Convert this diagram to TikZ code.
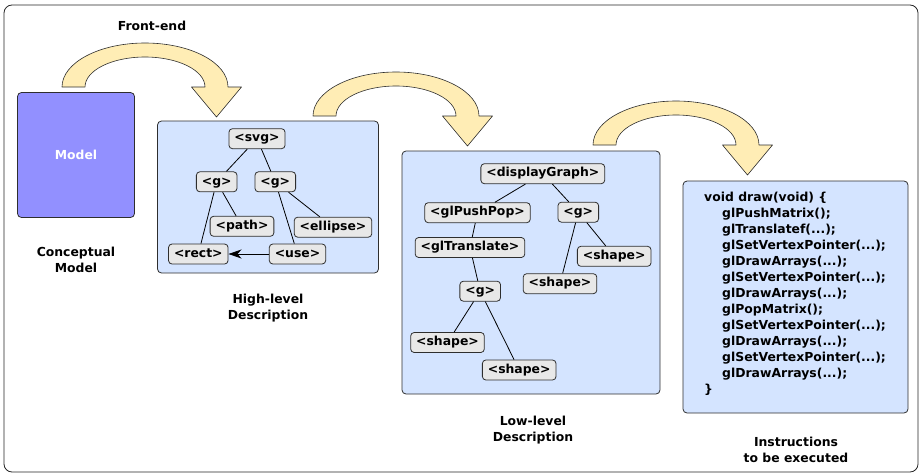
\documentclass[tikz,border=0pt]{standalone}
\usepackage{fontspec}
\setmainfont{DejaVu Sans}
\usetikzlibrary{arrows.meta}

\definecolor{panelblue}{HTML}{D4E4FF}
\definecolor{modelblue}{HTML}{9290FF}
\definecolor{tagfill}{HTML}{E8E8E8}
\definecolor{flowyellow}{HTML}{FFEDB5}
\definecolor{edgegray}{HTML}{2E2E2E}

\newcommand{\labelfont}{\bfseries\fontsize{12.4}{16}\selectfont}

\tikzset{
    panel/.style={shape=rectangle, draw=edgegray, fill=panelblue, line width=0.8pt, rounded corners=4pt},
    tag/.style={shape=rectangle, draw=edgegray, fill=tagfill, line width=0.8pt, rounded corners=3.5pt, minimum height=20pt, inner xsep=5.5pt, inner ysep=1pt, text height=9.2pt, text depth=2.8pt, font=\labelfont},
    caption/.style={align=center, font=\labelfont},
    flow/.style={draw=edgegray, fill=flowyellow, line width=0.6pt, line join=round},
    branch/.style={draw=black, line width=0.8pt},
}

\begin{document}
\begin{tikzpicture}[x=1pt, y=-1pt]
        \useasboundingbox (0,0) rectangle (921,474);
        \draw[rounded corners=8pt, line width=0.8pt, draw=black!85] (4,5) rectangle (918,472);
        % curved stage arrows
        \foreach \ax/\ay in {62/87, 313/116, 593/145}
            \draw[flow, shift={(\ax,\ay)}] (0,0) .. controls (0,-24.3) and (37.2,-44) .. (83,-44) .. controls (128.8,-44) and (166,-24.3) .. (166,0) -- (179.5,0) -- (154.5,30) -- (129.5,0) -- (143,0) .. controls (143,-16.6) and (116.1,-30) .. (83,-30) .. controls (49.9,-30) and (23,-16.6) .. (23,0) -- cycle;
        \node[name=frontend, caption] at (152,26) {Front-end};

        \node[name=model, panel, fill=modelblue, minimum width=117pt, minimum height=125pt, text=white, font=\labelfont] at (76,155) {Model};
        \node[name=modelcap, caption] at (76,260) {Conceptual\\Model};

        % high-level description
        \node[name=high, panel, minimum width=221pt, minimum height=152pt] at (268,197) {};
        \node[name=svg, tag] at (257,138.7) {<svg>};
        \node[name=gl, tag] at (216.7,181.8) {<g>};
        \node[name=gr, tag] at (275.3,181.8) {<g>};
        \node[name=path, tag] at (242,226.3) {<path>};
        \node[name=ellipse, tag] at (333,227.2) {<ellipse>};
        \node[name=rect, tag] at (198.3,254) {<rect>};
        \node[name=use, tag] at (297.5,254) {<use>};
        \draw[branch] (svg) -- (gl);
        \draw[branch] (svg) -- (gr);
        \draw[branch] (gl) -- (path);
        \draw[branch] (gl) -- (rect);
        \draw[branch] (gr) -- (use);
        \draw[branch] (gr) -- (ellipse);
        \draw[branch, -{Stealth[length=13pt, width=9pt, inset=4pt]}] (use) -- (rect);
        \node[name=highcap, caption] at (268,308.5) {High-level\\Description};

        % low-level description
        \node[name=low, panel, minimum width=258pt, minimum height=243pt] at (531,272.5) {};
        \node[name=disp, tag] at (542.8,173.7) {<displayGraph>};
        \node[name=push, tag] at (477.5,212.7) {<glPushPop>};
        \node[name=gtop, tag] at (578.3,212.2) {<g>};
        \node[name=trans, tag] at (470,247.5) {<glTranslate>};
        \node[name=shaper, tag] at (614.2,256.3) {<shape>};
        \node[name=shapem, tag] at (560,283.7) {<shape>};
        \node[name=gbot, tag] at (480.2,291.2) {<g>};
        \node[name=shapel, tag] at (447.5,342.5) {<shape>};
        \node[name=shapeb, tag] at (519.2,370) {<shape>};
        \draw[branch] (disp) -- (push);
        \draw[branch] (disp) -- (gtop);
        \draw[branch] (push) -- (trans);
        \draw[branch] (trans) -- (gbot);
        \draw[branch] (gbot) -- (shapel);
        \draw[branch] (gbot) -- (shapeb);
        \draw[branch] (gtop) -- (shapem);
        \draw[branch] (gtop) -- (shaper);
        \node[name=lowcap, caption] at (533,430) {Low-level\\Description};

        % instructions
        \node[name=instr, panel, minimum width=225pt, minimum height=232pt] at (795.5,297) {};
        \node[name=code, anchor=north west, align=left, inner sep=0pt, font=\bfseries\fontsize{12.4}{16}\selectfont] at (704,192) {void draw(void) \{\\
            \hspace*{18pt}glPushMatrix();\\
            \hspace*{18pt}glTranslatef(...);\\
            \hspace*{18pt}glSetVertexPointer(...);\\
            \hspace*{18pt}glDrawArrays(...);\\
            \hspace*{18pt}glSetVertexPointer(...);\\
            \hspace*{18pt}glDrawArrays(...);\\
            \hspace*{18pt}glPopMatrix();\\
            \hspace*{18pt}glSetVertexPointer(...);\\
            \hspace*{18pt}glDrawArrays(...);\\
            \hspace*{18pt}glSetVertexPointer(...);\\
            \hspace*{18pt}glDrawArrays(...);\\
            \}};
        \node[name=instrcap, caption] at (796,450) {Instructions\\to be executed};
    \end{tikzpicture}
\end{document}
